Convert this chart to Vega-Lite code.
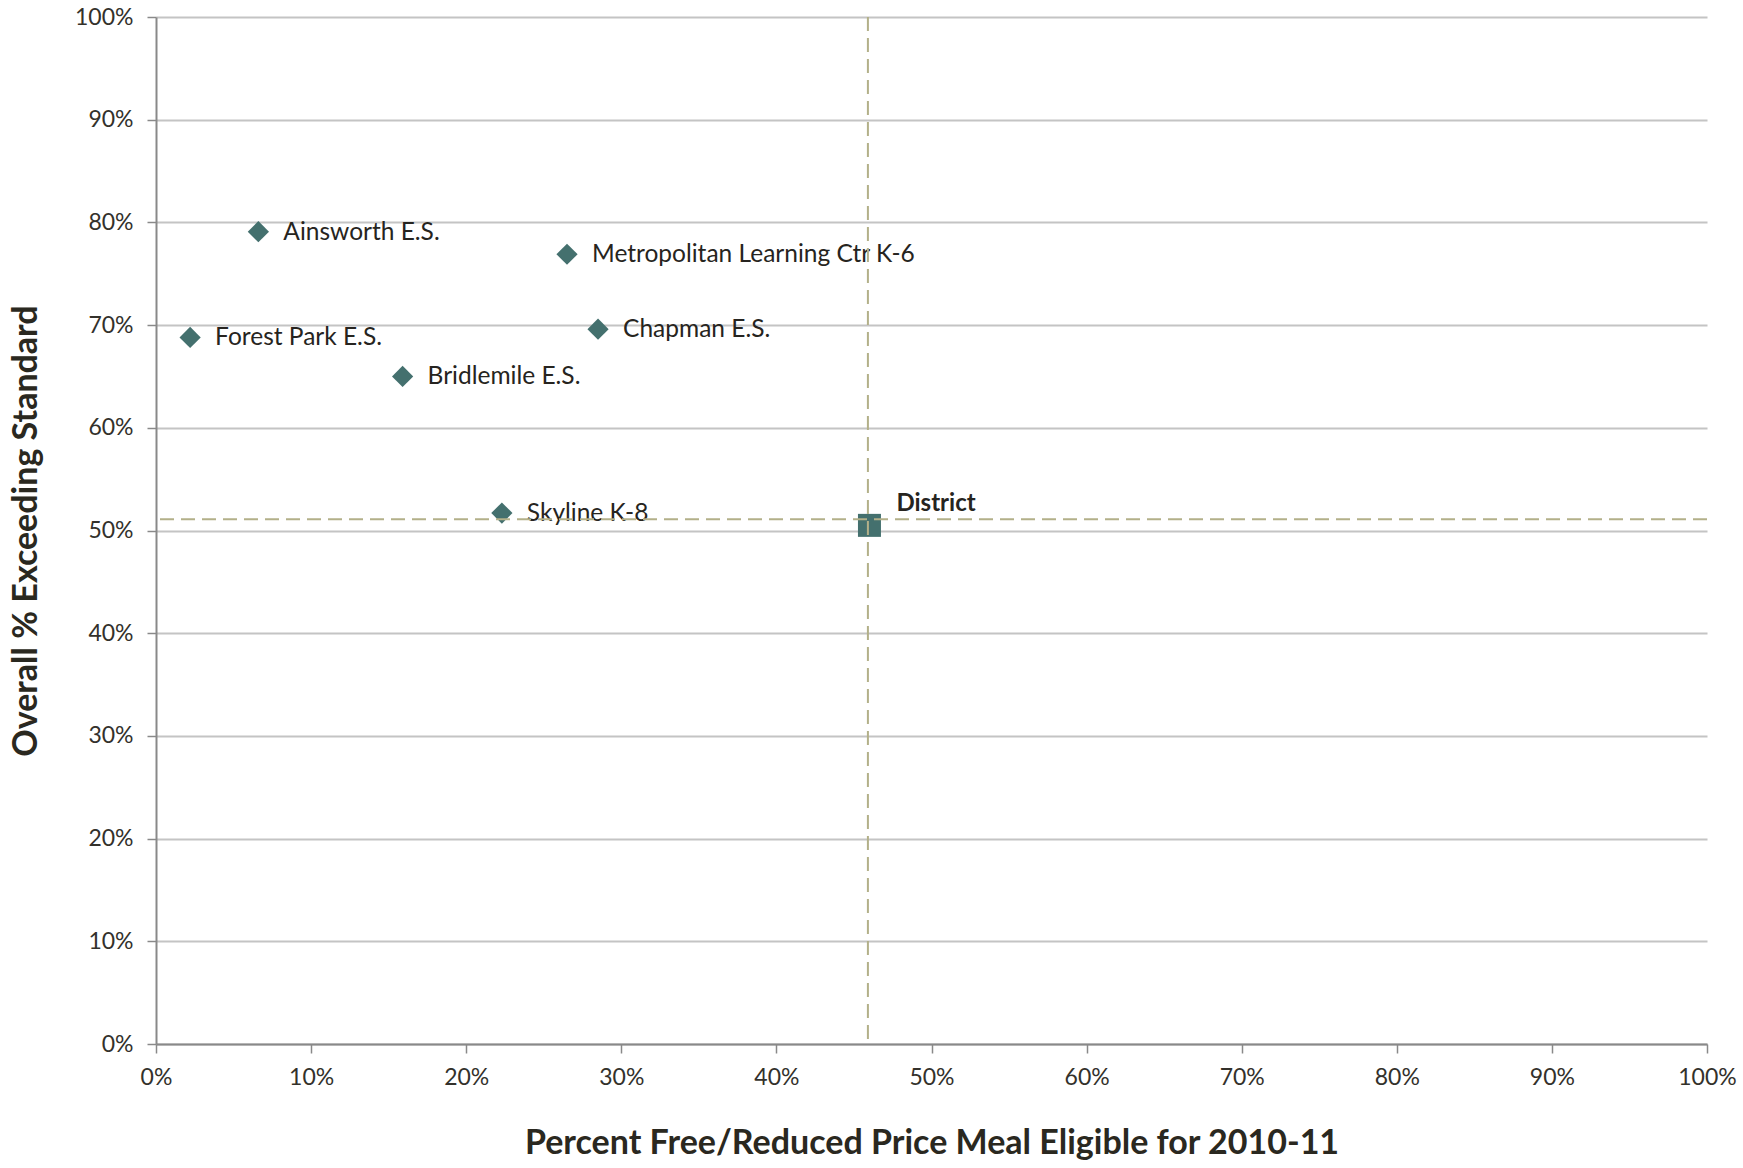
{
  "$schema": "https://vega.github.io/schema/vega-lite/v6.json",
  "width": 1551,
  "height": 1027,
  "autosize": {"type": "none"},
  "padding": {"left": 156, "top": 17, "right": 36, "bottom": 124},
  "background": "white",
  "config": {"view": {"stroke": null}, "font": "Lato"},
  "datasets": {
    "schools": [
      {"name": "Ainsworth E.S.", "frl": 0.066, "exceed": 0.791},
      {"name": "Metropolitan Learning Ctr K-6", "frl": 0.265, "exceed": 0.769},
      {"name": "Forest Park E.S.", "frl": 0.022, "exceed": 0.688},
      {"name": "Chapman E.S.", "frl": 0.285, "exceed": 0.696},
      {"name": "Bridlemile E.S.", "frl": 0.159, "exceed": 0.650},
      {"name": "Skyline K-8", "frl": 0.223, "exceed": 0.517}
    ],
    "district": [
      {"name": "District", "frl": 0.460, "exceed": 0.505}
    ],
    "refs": [
      {"frl": 0.459, "exceed": 0.511}
    ]
  },
  "layer": [
    {
      "data": {"name": "schools"},
      "mark": {"type": "point", "shape": "diamond", "filled": true, "color": "#44706e", "opacity": 1, "size": 450},
      "encoding": {
        "x": {
          "field": "frl", "type": "quantitative",
          "scale": {"domain": [0, 1], "nice": false},
          "axis": {
            "format": ".0%", "values": [0, 0.1, 0.2, 0.3, 0.4, 0.5, 0.6, 0.7, 0.8, 0.9, 1],
            "grid": false, "domainColor": "#898989", "domainWidth": 2,
            "tickColor": "#898989", "tickWidth": 1.5, "tickSize": 9,
            "labelFlush": false,
            "labelFont": "Lato", "labelFontSize": 23, "labelColor": "#33312b", "labelPadding": 13,
            "title": "Percent Free/Reduced Price Meal Eligible for 2010-11",
            "titleFont": "Lato", "titleFontSize": 34, "titleFontWeight": "bold", "titleColor": "#2a2820", "titlePadding": 37
          }
        },
        "y": {
          "field": "exceed", "type": "quantitative",
          "scale": {"domain": [0, 1], "nice": false},
          "axis": {
            "format": ".0%", "values": [0, 0.1, 0.2, 0.3, 0.4, 0.5, 0.6, 0.7, 0.8, 0.9, 1],
            "grid": true, "gridColor": "#c4c4c4", "gridWidth": 2,
            "domainColor": "#898989", "domainWidth": 2,
            "tickColor": "#898989", "tickWidth": 1.5, "tickSize": 9,
            "labelFlush": false,
            "labelFont": "Lato", "labelFontSize": 23, "labelColor": "#33312b", "labelPadding": 14,
            "title": "Overall % Exceeding Standard",
            "titleFont": "Lato", "titleFontSize": 34, "titleFontWeight": "bold", "titleColor": "#2a2820", "titlePadding": 31
          }
        }
      }
    },
    {
      "data": {"name": "schools"},
      "mark": {"type": "text", "align": "left", "baseline": "middle", "dx": 25, "dy": 1, "fontSize": 24.5, "font": "Lato", "color": "#262420"},
      "encoding": {
        "x": {"field": "frl", "type": "quantitative"},
        "y": {"field": "exceed", "type": "quantitative"},
        "text": {"field": "name"}
      }
    },
    {
      "data": {"name": "district"},
      "mark": {"type": "square", "filled": true, "color": "#44706e", "opacity": 1, "size": 529},
      "encoding": {
        "x": {"field": "frl", "type": "quantitative"},
        "y": {"field": "exceed", "type": "quantitative"}
      }
    },
    {
      "data": {"name": "district"},
      "mark": {"type": "text", "align": "left", "baseline": "middle", "dx": 27, "dy": -21, "fontSize": 24, "font": "Lato", "fontWeight": "bold", "color": "#262420"},
      "encoding": {
        "x": {"field": "frl", "type": "quantitative"},
        "y": {"field": "exceed", "type": "quantitative"},
        "text": {"field": "name"}
      }
    },
    {
      "data": {"name": "refs"},
      "mark": {"type": "rule", "color": "#b3b089", "strokeWidth": 2, "strokeDash": [14, 7]},
      "encoding": {
        "x": {"field": "frl", "type": "quantitative"}
      }
    },
    {
      "data": {"name": "refs"},
      "mark": {"type": "rule", "color": "#b3b089", "strokeWidth": 2, "strokeDash": [14, 7]},
      "encoding": {
        "y": {"field": "exceed", "type": "quantitative"}
      }
    }
  ]
}
